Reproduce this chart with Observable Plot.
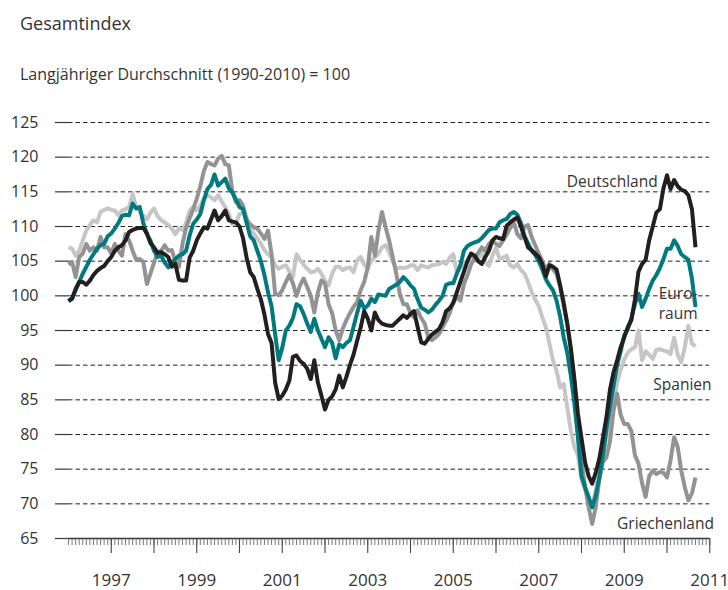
<!DOCTYPE html>
<html><head><meta charset="utf-8">
<script src="https://cdn.jsdelivr.net/npm/d3@7"></script>
<script src="https://cdn.jsdelivr.net/npm/@observablehq/plot@0.6"></script>
<style>
body{margin:0;background:#fff;font-family:"Open Sans",sans-serif;color:#333;}
#wrap{position:relative;width:728px;height:590px;overflow:hidden;background:#fff}
#head{position:relative;height:100px}
.title{position:absolute;left:20px;top:14px;font-size:18px;line-height:1;white-space:nowrap}
.sub{position:absolute;left:20px;top:66px;font-size:16px;line-height:1;white-space:nowrap}
#chart svg{display:block}
</style></head><body>
<div id="wrap">
<div id="head"><div class="title">Gesamtindex</div><div class="sub">Langjähriger Durchschnitt (1990-2010) = 100</div></div>
<div id="chart"></div>
</div>
<script>
// monthly values, first value = January of startYear
const startYear = 1996;

const deutschland = [
 99.3, 99.6,101.0,102.0,102.0,101.6,102.2,103.0,103.6,104.0,104.3,105.0,
 105.6,106.5,107.0,107.3,108.0,109.2,109.5,109.7,109.8,109.8,109.0,107.6,
 107.0,106.2,106.3,106.0,105.6,104.2,104.6,102.3,102.2,102.2,105.5,106.5,
 108.0,109.0,109.9,109.7,111.0,112.3,110.9,111.5,112.3,110.9,110.7,110.6,
 110.0,108.3,105.5,103.4,102.7,101.0, 99.5, 97.3, 94.5, 93.2, 87.5, 85.1,
  85.6, 86.5, 87.8, 91.2, 91.4, 90.6, 90.2, 89.5, 88.0, 90.7, 87.5, 85.6,
  83.6, 85.0, 85.5, 86.5, 88.5, 86.8, 88.3, 90.0, 91.5, 93.5, 95.4, 97.8,
  96.7, 95.0, 97.6, 96.5, 96.0, 95.8, 95.7, 95.7, 96.2, 96.7, 97.2, 96.8,
  97.4, 97.8, 95.5, 93.3, 93.1, 93.8, 94.4, 94.8, 95.2, 96.2, 97.8, 98.2,
  99.0,100.5,102.0,103.5,105.0,106.1,105.8,105.0,104.6,105.6,106.5,108.0,
 108.5,108.3,108.2,110.1,110.6,111.0,111.3,110.0,108.5,107.0,106.6,106.1,
 105.6,104.6,102.8,104.4,104.2,103.8,101.5, 99.0, 96.0, 92.5, 88.0, 83.0,
  79.5, 76.0, 74.0, 72.9, 74.5, 76.5, 79.5, 82.5, 86.5, 89.0, 90.7, 92.6,
  94.0, 95.5, 96.5, 99.5,103.5,104.6,105.2,108.0,110.0,112.0,112.5,115.5,
 117.4,115.4,116.7,115.8,115.3,115.1,114.5,112.5,107.0
];

const euroraum = [
 99.2, 99.6,100.8,102.0,103.2,104.2,105.2,106.0,106.8,107.3,107.5,108.6,
 109.0,109.7,110.5,111.5,111.7,111.6,113.3,112.6,112.8,110.5,108.9,108.0,
 106.5,105.6,105.8,104.8,104.1,104.8,105.3,105.8,106.0,106.5,108.7,110.4,
 111.0,111.8,113.8,115.4,116.0,117.5,115.9,116.4,116.9,115.5,114.9,113.9,
 112.8,112.5,110.5,108.6,108.0,106.5,105.0,103.0,100.5, 98.5, 94.5, 90.7,
  92.5, 95.0, 95.7, 96.8, 98.8, 98.5, 97.4, 96.0, 94.8, 96.7, 95.0, 93.8,
  92.6, 94.0, 93.2, 91.0, 93.0, 92.6, 93.2, 93.6, 95.5, 97.5, 99.3, 98.2,
  98.6, 99.6, 99.1,100.2,100.1,100.0,101.0,101.3,101.6,102.0,102.7,102.2,
 101.5,101.0, 99.5, 98.3, 98.0, 97.6, 98.0, 98.7, 99.3,100.0,101.6,101.8,
 101.8,103.2,104.4,106.5,107.2,107.5,107.7,107.9,108.3,108.9,109.5,109.7,
 109.7,110.6,110.9,111.1,111.8,112.1,111.7,110.5,108.6,107.6,106.5,105.9,
 105.0,103.8,102.4,101.5,100.8, 99.3, 97.0, 94.0, 91.8, 88.5, 84.5, 79.5,
  74.0, 72.4, 71.0, 69.5, 71.2, 73.8, 77.0, 80.8, 84.0, 87.0, 90.0, 92.0,
  94.3, 95.2, 96.8, 98.8,100.3, 98.4, 99.6,101.0,102.2,103.0,104.0,105.3,
 106.8,106.8,108.0,107.2,106.0,105.6,105.2,102.5, 98.4
];

const spanien = [
 107.0,106.8,105.8,106.5,108.0,109.4,110.2,110.9,110.6,112.1,112.4,112.6,
 112.4,112.3,111.6,112.3,112.5,112.8,114.7,112.8,112.1,111.6,111.0,112.0,
 112.6,111.5,110.9,110.6,110.2,109.7,108.9,109.7,109.5,110.5,112.3,112.8,
 112.3,113.0,114.0,114.5,114.2,113.8,114.5,113.6,112.8,111.8,110.3,110.5,
 111.8,112.0,111.3,109.8,109.0,108.3,107.5,106.6,106.0,105.6,104.4,103.9,
 104.2,104.4,103.5,102.7,106.0,105.2,104.5,103.9,103.4,103.5,103.9,103.2,
 102.2,101.5,103.2,104.2,104.2,103.7,104.0,104.1,103.4,105.1,105.6,104.5,
 103.9,105.1,105.6,106.1,107.0,107.3,106.3,105.0,103.9,104.1,104.0,104.1,
 104.4,104.4,103.7,104.4,104.2,104.1,104.4,104.5,104.6,104.9,104.6,105.5,
 106.0,103.4,104.0,104.8,105.1,106.1,105.5,105.3,106.3,104.9,104.3,105.8,
 107.0,105.3,105.5,105.8,104.4,104.1,104.6,103.7,103.2,102.0,100.5, 99.5,
  98.5, 96.9, 95.5, 93.1, 90.7, 89.2, 86.8, 87.3, 83.9, 80.6, 78.2, 77.0,
  73.5, 72.0, 70.5, 69.5, 72.0, 74.5, 77.0, 79.5, 81.5, 84.5, 87.5, 89.3,
  90.8, 91.8, 92.3, 92.6, 95.0, 90.7, 92.0, 91.5, 90.9, 92.2, 92.3, 92.1,
  92.0, 91.6, 94.0, 91.5, 90.4, 92.6, 95.7, 93.1, 92.7
];

const griechenland = [
 104.5,104.9,102.7,105.6,106.1,107.5,106.5,107.0,106.5,108.5,107.0,107.0,
 106.1,107.5,106.5,105.8,108.9,108.0,106.5,105.2,105.3,104.9,101.7,103.2,
 104.8,106.3,106.5,107.3,106.5,106.6,105.0,104.2,107.5,109.8,111.2,112.5,
 114.0,115.8,118.0,119.3,119.0,118.8,119.8,120.2,119.0,118.8,115.0,113.5,
 113.8,113.0,111.0,110.3,109.9,109.7,109.0,108.2,109.4,106.0,100.3,100.1,
 100.8,102.0,103.0,101.8,100.0,101.5,102.5,101.3,100.0, 97.6,100.5,102.2,
 101.8, 98.8, 97.5, 95.0, 93.6, 95.3, 96.5, 97.5, 98.4, 99.1,100.8,102.0,
 104.1,108.5,105.8,109.4,112.1,109.9,108.0,105.6,103.2,100.3, 98.8, 98.8,
  97.5, 96.9, 97.9, 96.8, 96.0, 94.0, 93.6, 94.0, 94.5, 95.5, 96.4, 97.5,
  99.0, 99.8, 99.3,101.7,103.0,104.5,105.5,106.2,107.0,106.5,107.5,108.0,
 107.5,107.2,108.0,108.8,109.8,110.6,108.9,108.3,110.0,110.2,108.5,107.3,
 106.1,105.0,103.8,104.6,103.8,103.2,101.3, 98.5, 96.0, 92.0, 87.5, 81.0,
  76.0, 72.5, 69.5, 67.1, 69.5, 73.5, 76.0, 76.7, 79.0, 83.5, 85.9, 82.8,
  81.5, 81.5, 80.5, 77.0, 75.8, 73.0, 71.0, 74.0, 74.8, 74.3, 74.6, 74.5,
  73.8, 76.3, 79.6, 78.2, 74.8, 72.4, 70.5, 71.5, 73.8
];

const seriesNames = ["Spanien", "Griechenland", "Euroraum", "Deutschland"];
const seriesColors = ["#c6c6c6", "#939393", "#007a80", "#231f20"];
const yTicks = [65, 70, 75, 80, 85, 90, 95, 100, 105, 110, 115, 120, 125];
const yearTicks = d3.range(1997, 2012);
const yearLabels = ["1997", "1999", "2001", "2003", "2005", "2007", "2009", "2011"];

const valuesByName = {Deutschland: deutschland, Euroraum: euroraum, Spanien: spanien, Griechenland: griechenland};
const toRows = (name) => valuesByName[name].map((v, i) => ({name, t: startYear + i / 12, v}));
const monthTicks = d3.range(0, 15 * 12 + 1).map(i => startYear + i / 12);

// direct labels (data coordinates)
const lineLabels = [
  {text: "Deutschland", t: 2008.72, v: 116.6},
  {text: "Euro-\nraum", t: 2010.26, v: 99.0},
  {text: "Spanien", t: 2010.36, v: 87.35},
  {text: "Griechenland", t: 2009.965, v: 67.35}
];

const chart = Plot.plot({
  width: 728,
  height: 490,
  marginLeft: 68,
  marginRight: 18.75,
  marginTop: 22,
  marginBottom: 52,
  style: {fontFamily: '"Open Sans", sans-serif', fontSize: "16px", color: "#333", background: "#fff", overflow: "visible"},
  x: {type: "linear", domain: [1996, 2011], label: null},
  y: {domain: [65, 125], label: null},
  marks: [
    Plot.ruleY(yTicks.filter(d => d > 65), {stroke: "#222", strokeWidth: 1, strokeDasharray: "4.5,3"}),
    Plot.axisY({ticks: yTicks, tickSize: 13, tickPadding: 17, tickFormat: d => String(d), fontSize: 16, stroke: "#444", strokeWidth: 1.3, fill: "#333"}),
    Plot.ruleY([65], {stroke: "#333", strokeWidth: 1.3}),
    Plot.axisX({ticks: monthTicks, tickSize: 7, tickFormat: () => "", stroke: "#555", strokeWidth: 0.8}),
    Plot.axisX({ticks: yearTicks, tickSize: 15, tickPadding: 20, fontSize: 17, fill: "#333", stroke: "#444", strokeWidth: 1.1,
      tickFormat: d => yearLabels.includes(String(d)) ? String(d) : ""}),
    ...seriesNames.map((name, i) => Plot.line(toRows(name), {
      x: "t", y: "v", stroke: seriesColors[i], strokeWidth: 4, strokeLinejoin: "round", strokeLinecap: "butt"
    })),
    Plot.text(lineLabels, {x: "t", y: "v", text: "text", fontSize: 15.5, fill: "#333", textAnchor: "middle", lineHeight: 1.3})
  ]
});
document.getElementById("chart").appendChild(chart);
</script>
</body></html>
